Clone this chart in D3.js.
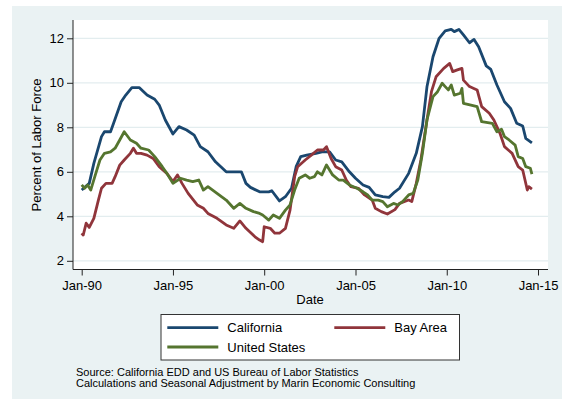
<!DOCTYPE html>
<html><head><meta charset="utf-8">
<script src="https://cdn.jsdelivr.net/npm/d3@7"></script>
<style>html,body{margin:0;padding:0;background:#fff}svg{display:block}text{font-family:"Liberation Sans",Arial,Helvetica,sans-serif;fill:#000}</style>
</head><body>
<svg id="c" width="564" height="400"></svg>
<script>
// ---- data ----
const caDates = ["1990-01","1990-06","1990-09","1991-02","1991-04","1991-08","1991-10","1992-03","1992-06","1992-10","1993-03","1993-08","1994-01","1994-04","1994-08","1995-01","1995-05","1995-10","1996-03","1996-07","1996-12","1997-05","1997-12","1998-04","1998-10","1999-01","1999-04","1999-10","2000-04","2000-06","2000-11","2001-03","2001-07","2001-10","2002-01","2002-05","2002-11","2003-03","2003-08","2003-12","2004-04","2004-09","2005-01","2005-06","2005-10","2006-02","2006-07","2006-11","2007-03","2007-06","2007-12","2008-05","2008-09","2008-12","2009-04","2009-08","2009-12","2010-04","2010-06","2010-09","2010-12","2011-04","2011-07","2011-10","2012-03","2012-06","2012-10","2013-03","2013-07","2013-11","2014-03","2014-05","2014-09"];
const caValues = [5.18,5.48,6.38,7.58,7.8,7.8,8.18,9.15,9.45,9.78,9.78,9.45,9.26,9.0,8.33,7.7,8.03,7.88,7.65,7.13,6.9,6.45,6.0,6.0,6.0,5.48,5.3,5.1,5.1,5.15,4.69,4.88,5.26,6.23,6.68,6.75,6.83,6.9,6.9,6.53,6.45,6.0,5.71,5.41,5.3,4.96,4.88,4.85,5.1,5.26,5.93,6.83,8.03,9.82,11.17,12.0,12.33,12.4,12.3,12.4,12.15,11.8,11.95,11.62,10.76,10.6,9.9,9.15,8.85,8.18,8.06,7.5,7.3];

const bayDates = ["1990-01","1990-02","1990-04","1990-06","1990-09","1990-12","1991-02","1991-05","1991-09","1991-11","1992-02","1992-05","1992-09","1992-11","1993-01","1993-04","1993-08","1993-12","1994-04","1994-09","1995-01","1995-04","1995-07","1995-11","1996-05","1996-09","1996-12","1997-06","1997-12","1998-05","1998-09","1999-01","1999-07","1999-10","1999-12","2000-01","2000-05","2000-08","2000-11","2001-03","2001-06","2001-09","2001-11","2002-04","2002-08","2002-12","2003-04","2003-06","2003-09","2003-12","2004-04","2004-07","2004-10","2005-03","2005-07","2005-12","2006-02","2006-06","2006-10","2007-03","2007-06","2007-12","2008-02","2008-05","2008-08","2008-12","2009-03","2009-06","2009-11","2010-03","2010-05","2010-08","2010-11","2010-12","2011-04","2011-09","2011-12","2012-05","2012-08","2012-12","2013-03","2013-08","2013-12","2014-03","2014-06","2014-07","2014-09"];
const bayValues = [3.24,3.16,3.69,3.5,3.91,4.73,5.26,5.48,5.48,5.78,6.3,6.53,6.83,7.06,6.83,6.83,6.75,6.6,6.23,5.93,5.56,5.86,5.48,5.03,4.51,4.36,4.13,3.91,3.61,3.46,3.79,3.46,3.08,2.93,2.86,3.53,3.46,3.24,3.24,3.46,4.28,5.78,6.23,6.53,6.75,6.98,6.98,7.13,6.6,6.23,6.08,5.63,5.33,5.26,4.96,4.73,4.36,4.21,4.10,4.3,4.58,4.73,4.66,5.48,6.53,8.33,9.6,10.27,10.65,10.87,10.5,10.58,10.65,10.12,9.83,9.68,8.93,8.63,8.33,7.73,7.13,6.83,6.23,6.08,5.18,5.33,5.22];

const usDates = ["1990-01","1990-03","1990-05","1990-07","1990-10","1991-01","1991-04","1991-08","1991-11","1992-02","1992-05","1992-09","1993-01","1993-04","1993-09","1994-01","1994-06","1994-09","1995-01","1995-06","1995-10","1996-02","1996-06","1996-09","1996-12","1997-06","1997-12","1998-05","1998-09","1999-01","1999-06","1999-10","1999-12","2000-04","2000-07","2000-11","2001-03","2001-06","2001-09","2001-12","2002-04","2002-07","2002-10","2002-12","2003-03","2003-06","2003-10","2004-02","2004-05","2004-09","2005-02","2005-06","2005-09","2005-12","2006-04","2006-07","2006-10","2007-02","2007-05","2007-08","2007-12","2008-03","2008-06","2008-09","2008-12","2009-04","2009-07","2009-10","2009-12","2010-02","2010-04","2010-06","2010-10","2010-11","2010-12","2011-05","2011-09","2011-12","2012-05","2012-07","2012-10","2013-01","2013-03","2013-06","2013-10","2013-12","2014-03","2014-05","2014-08","2014-09"];
const usValues = [5.41,5.26,5.41,5.18,5.86,6.53,6.83,6.9,7.06,7.43,7.8,7.43,7.28,7.06,6.98,6.68,6.23,5.93,5.48,5.71,5.63,5.56,5.63,5.18,5.33,5.03,4.73,4.36,4.58,4.36,4.21,4.13,4.06,3.83,4.06,3.91,4.28,4.51,5.18,5.71,5.86,5.71,5.78,6.0,5.86,6.31,5.86,5.63,5.63,5.41,5.26,5.1,4.96,4.73,4.73,4.66,4.43,4.58,4.51,4.66,4.96,5.03,5.63,6.83,8.33,9.38,9.6,9.98,9.83,9.68,9.9,9.45,9.53,9.75,9.08,9.0,8.93,8.25,8.2,8.18,7.8,7.91,7.58,7.43,7.2,6.68,6.6,6.23,6.16,5.9];

const xTickDates = ["1990-01","1995-01","2000-01","2005-01","2010-01","2015-01"];
const xTickLabels = ["Jan-90","Jan-95","Jan-00","Jan-05","Jan-10","Jan-15"];
const yTicks = [2,4,6,8,10,12];
const seriesNames = ["California","Bay Area","United States"];
const seriesColors = ["#1a476f","#90353b","#55752f"];

// ---- drawing ----
const parse = d3.timeParse("%Y-%m");
const svg = d3.select("#c");
svg.append("rect").attr("x",12).attr("y",6).attr("width",550).attr("height",393).attr("fill","#eaf2f3");

const plot = {left:73, right:548, top:20, bottom:269.5};
svg.append("rect").attr("x",plot.left).attr("y",plot.top)
  .attr("width",plot.right-plot.left).attr("height",plot.bottom-plot.top).attr("fill","#fff");

const x = d3.scaleTime().domain([parse("1990-01"),parse("2015-01")]).range([81.7,538]);
const y = d3.scaleLinear().domain([2,12]).range([260.8,38.3]);

// gridlines
svg.append("g").selectAll("line").data(yTicks).join("line")
  .attr("x1",plot.left).attr("x2",plot.right)
  .attr("y1",d=>y(d)).attr("y2",d=>y(d))
  .attr("stroke","#e3edef").attr("stroke-width",1.3);

// lines (drawn in series order, later series on top)
const line = d3.line().x(d=>x(d[0])).y(d=>y(d[1])).curve(d3.curveLinear);
const series = [
  d3.zip(caDates.map(parse), caValues),
  d3.zip(bayDates.map(parse), bayValues),
  d3.zip(usDates.map(parse), usValues)
];
[0,1,2].forEach(i=>{
  svg.append("path").datum(series[i]).attr("d",line)
    .attr("fill","none").attr("stroke",seriesColors[i]).attr("stroke-width",2.8)
    .attr("stroke-linejoin","round");
});

// y axis
const yAxis = d3.axisLeft(y).tickValues(yTicks).tickSize(6).tickPadding(3).tickFormat(d3.format("d"));
const gy = svg.append("g").attr("transform",`translate(${plot.left},0)`).call(yAxis);
gy.select(".domain").remove();
svg.append("line").attr("x1",plot.left).attr("x2",plot.left).attr("y1",plot.top).attr("y2",plot.bottom)
  .attr("stroke","#222").attr("stroke-width",1);
gy.selectAll(".tick line").attr("stroke","#222");
gy.selectAll(".tick text").attr("font-size",13).attr("fill","#000").style("font-family","'Liberation Sans',Arial,sans-serif");

// x axis
const xAxis = d3.axisBottom(x).tickValues(xTickDates.map(parse)).tickSize(6).tickPadding(5)
  .tickFormat((d,i)=>xTickLabels[i]);
const gx = svg.append("g").attr("transform",`translate(0,${plot.bottom})`).call(xAxis);
gx.select(".domain").remove();
svg.append("line").attr("x1",plot.left).attr("x2",plot.right).attr("y1",plot.bottom).attr("y2",plot.bottom)
  .attr("stroke","#222").attr("stroke-width",1);
gx.selectAll(".tick line").attr("stroke","#222");
gx.selectAll(".tick text").attr("font-size",13).attr("fill","#000").style("font-family","'Liberation Sans',Arial,sans-serif");

// axis titles
svg.append("text").attr("x",310).attr("y",299.5).attr("dy","0.35em").attr("text-anchor","middle")
  .attr("font-size",13).text("Date");
svg.append("text").attr("transform","translate(36,145) rotate(-90)").attr("dy","0.35em")
  .attr("text-anchor","middle").attr("font-size",13).text("Percent of Labor Force");

// legend
svg.append("rect").attr("x",161).attr("y",314.5).attr("width",298.5).attr("height",45.5)
  .attr("fill","#fff").attr("stroke","#333").attr("stroke-width",1);
const legendPos = [[167.3,327.7],[334.3,327.7],[167.3,347]];
seriesNames.forEach((n,i)=>{
  const [lx,ly] = legendPos[i];
  svg.append("line").attr("x1",lx).attr("x2",lx+51).attr("y1",ly).attr("y2",ly)
    .attr("stroke",seriesColors[i]).attr("stroke-width",2.8);
  svg.append("text").attr("x",lx+60).attr("y",ly).attr("dy","0.35em").attr("font-size",13).text(n);
});

// source note
svg.append("text").attr("x",76).attr("y",376).attr("font-size",11)
  .text("Source: California EDD and US Bureau of Labor Statistics");
svg.append("text").attr("x",76).attr("y",387).attr("font-size",11)
  .text("Calculations and Seasonal Adjustment by Marin Economic Consulting");
</script>
</body></html>
